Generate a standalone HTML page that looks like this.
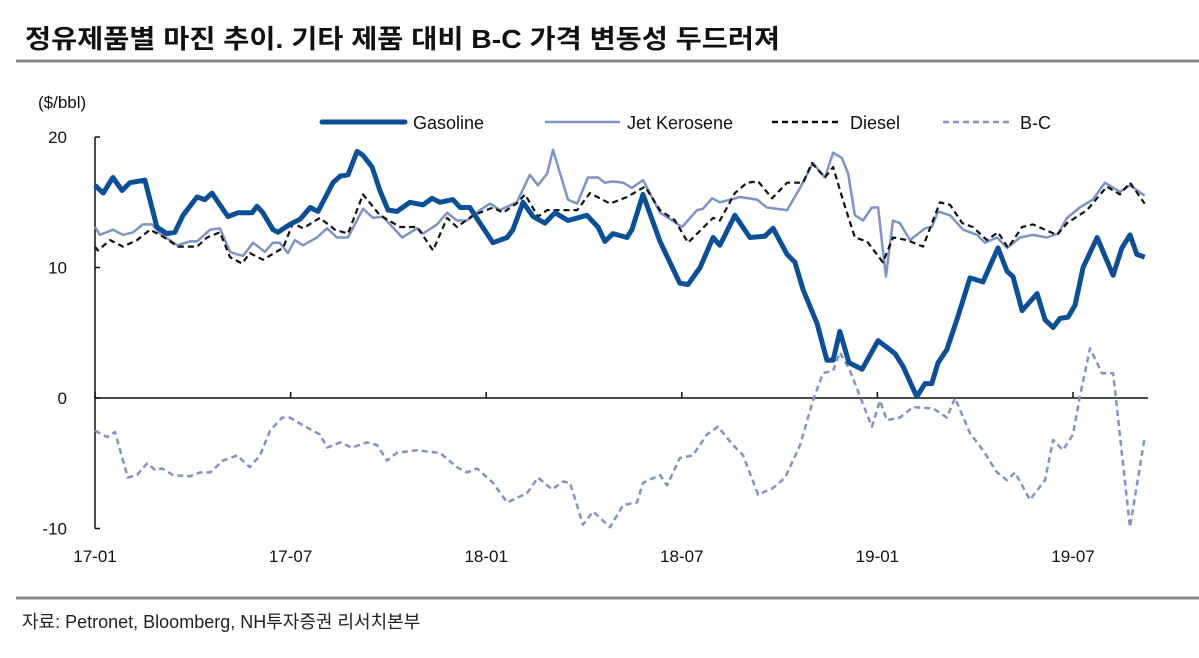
<!DOCTYPE html>
<html><head><meta charset="utf-8"><style>
body{margin:0;background:#fff;width:1199px;height:658px;overflow:hidden}
svg{display:block;font-family:"Liberation Sans","Noto Sans CJK KR",sans-serif}
</style></head><body>
<svg id="chart" width="1199" height="658">
<text x="25" y="48" font-size="26" font-weight="bold" fill="#111" textLength="755" lengthAdjust="spacingAndGlyphs">정유제품별 마진 추이. 기타 제품 대비 B-C 가격 변동성 두드러져</text>
<line x1="16" y1="61" x2="1199" y2="61" stroke="#888" stroke-width="3"/>
<text x="38" y="108" font-size="17" fill="#111">($/bbl)</text>
<g>
<line x1="322" y1="122" x2="405" y2="122" stroke="#0c4f94" stroke-width="5" stroke-linecap="round"/>
<text x="413" y="129" font-size="18" fill="#111">Gasoline</text>
<line x1="545" y1="122" x2="620" y2="122" stroke="#7f93c4" stroke-width="2.5"/>
<text x="627" y="129" font-size="18" fill="#111">Jet Kerosene</text>
<line x1="772" y1="122" x2="842" y2="122" stroke="#111" stroke-width="2.5" stroke-dasharray="6,4"/>
<text x="850" y="129" font-size="18" fill="#111">Diesel</text>
<line x1="943" y1="122" x2="1012" y2="122" stroke="#7f93c4" stroke-width="2.5" stroke-dasharray="6,4"/>
<text x="1020" y="129" font-size="18" fill="#111">B-C</text>
</g>
<g id="axes"></g>
<g id="series"></g>
<line x1="16" y1="598" x2="1199" y2="598" stroke="#888" stroke-width="3"/>
<text x="22" y="628" font-size="18" fill="#222">자료: Petronet, Bloomberg, NH투자증권 리서치본부</text>
</svg>
<script>
const yTicks=[20,10,0,-10];
const xTickLabels=["17-01","17-07","18-01","18-07","19-01","19-07"];
const xTickMonths=[0,6,12,18,24,30];
const gasM=[0,.25,.55,.83,1.07,1.53,1.9,2.2,2.45,2.7,3.13,3.37,3.59,4.08,4.39,4.82,4.97,5.15,5.46,5.61,5.98,6.29,6.6,6.84,7.3,7.52,7.76,8.04,8.22,8.5,8.74,8.99,9.26,9.66,10.06,10.34,10.58,10.98,11.2,11.5,11.81,12.21,12.64,12.82,13.13,13.44,13.8,14.11,14.51,15.09,15.43,15.64,15.89,16.32,16.47,16.81,17.33,17.94,18.19,18.56,18.96,19.17,19.63,20.09,20.55,20.8,21.23,21.47,21.72,22.15,22.45,22.64,22.85,23.13,23.53,24.02,24.54,24.79,25.21,25.46,25.67,25.86,26.13,26.44,26.84,27.24,27.7,27.98,28.16,28.44,28.9,29.14,29.39,29.6,29.85,30.06,30.31,30.74,31.23,31.5,31.75,31.96,32.2];
const gasV=[16.3,15.7,16.9,15.9,16.5,16.7,13.1,12.6,12.7,14.0,15.4,15.2,15.7,13.9,14.2,14.2,14.7,14.2,12.9,12.7,13.3,13.7,14.6,14.3,16.5,17.0,17.1,18.9,18.6,17.7,15.9,14.4,14.3,15.0,14.8,15.3,15.0,15.2,14.6,14.6,13.4,11.9,12.3,12.9,15.0,13.9,13.4,14.2,13.6,14.0,13.1,12.0,12.6,12.3,12.9,15.6,12.0,8.8,8.7,10.0,12.3,11.7,14.0,12.3,12.4,13.0,11.0,10.4,8.3,5.7,2.9,2.9,5.1,2.7,2.2,4.4,3.4,2.4,0.1,1.1,1.1,2.7,3.7,6.0,9.2,8.9,11.5,9.7,9.3,6.7,8.0,6.0,5.4,6.1,6.2,7.1,10.0,12.3,9.4,11.5,12.5,11.0,10.8];
const jetM=[0,.15,.55,.86,1.17,1.47,1.75,2.0,2.52,2.91,3.13,3.53,3.83,4.14,4.36,4.54,4.85,5.21,5.46,5.67,5.92,6.13,6.38,6.81,7.12,7.42,7.76,8.22,8.53,8.83,9.42,9.88,10.06,10.49,10.8,11.1,11.41,11.81,12.12,12.42,12.94,13.34,13.59,13.87,14.05,14.51,14.79,15.12,15.43,15.64,15.89,16.2,16.47,16.81,17.33,18.01,18.47,18.65,18.93,19.17,19.79,20.31,20.61,21.23,21.63,22.02,22.39,22.64,22.91,23.1,23.31,23.56,23.83,24.02,24.26,24.48,24.69,25.0,25.46,25.67,25.86,26.23,26.63,27.06,27.3,27.67,27.98,28.37,28.77,29.2,29.54,29.82,30.21,30.61,30.98,31.44,31.75,32.2];
const jetV=[13.1,12.5,12.9,12.5,12.7,13.3,13.3,12.6,11.7,12.0,12.0,12.9,13.0,11.2,11.0,10.9,11.9,11.2,11.9,11.9,11.1,12.1,11.7,12.3,13.0,12.3,12.3,14.5,13.8,13.9,12.3,13.0,12.6,13.3,14.2,13.6,13.6,14.4,14.9,14.4,15.0,17.1,16.3,17.2,19.0,15.2,14.9,16.9,16.9,16.5,16.6,16.5,16.1,16.7,14.2,13.1,14.4,14.5,15.3,15.0,15.4,15.2,14.6,14.4,16.1,18.0,16.9,18.8,18.4,17.2,14.0,13.6,14.6,14.6,9.3,13.6,13.4,12.1,13.0,13.1,14.3,14.0,12.9,12.5,11.9,12.3,11.5,12.3,12.5,12.3,12.6,13.8,14.6,15.2,16.5,15.8,16.3,15.5];
const dieM=[0,.09,.46,.86,1.29,1.69,2.06,2.55,3.13,3.44,3.83,4.14,4.51,4.75,5.15,5.77,6.07,6.38,6.9,7.36,7.76,8.22,8.74,9.36,9.88,10.37,10.8,11.1,11.6,12.21,12.52,12.98,13.19,13.59,13.87,14.79,15.18,15.8,16.32,16.87,17.33,17.79,18.19,18.96,19.17,19.63,20.0,20.34,20.77,21.23,21.72,21.99,22.39,22.64,22.94,23.31,23.68,24.17,24.48,24.91,25.4,25.92,26.23,26.6,26.93,27.36,27.7,28.01,28.44,28.77,29.51,29.82,30.43,31.04,31.44,31.75,32.2];
const dieV=[11.6,11.3,12.1,11.6,12.1,12.9,12.4,11.6,11.6,12.3,12.7,10.8,10.3,11.1,10.6,11.5,13.4,13.0,13.8,12.9,12.6,15.6,14.0,13.1,13.1,11.3,13.8,13.1,14.0,14.6,14.2,15.0,15.6,13.9,14.4,14.4,15.7,14.9,15.4,16.2,14.4,13.6,11.9,13.8,13.6,15.7,16.5,16.6,15.3,16.5,16.5,18.0,16.9,17.7,15.2,12.3,12.0,10.4,12.3,12.1,11.6,15.0,14.8,13.4,13.1,12.1,12.7,11.5,13.1,13.3,12.5,13.4,14.4,16.2,15.6,16.5,14.9];
const bcM=[0,.37,.61,1.01,1.29,1.6,1.84,2.06,2.39,2.91,3.22,3.53,3.93,4.36,4.75,5.06,5.37,5.74,5.98,6.38,6.9,7.12,7.52,7.88,8.34,8.65,8.96,9.26,9.88,10.18,10.58,11.1,11.41,11.72,12.21,12.64,13.25,13.59,14.02,14.36,14.57,14.97,15.28,15.8,16.2,16.63,16.81,17.33,17.55,17.94,18.34,18.77,19.11,19.57,19.88,20.34,20.8,21.17,21.63,22.02,22.33,22.64,22.85,23.16,23.47,23.83,24.08,24.29,24.69,25.09,25.71,26.13,26.38,26.84,27.24,27.67,27.98,28.22,28.68,29.14,29.39,29.69,30.0,30.21,30.52,30.89,31.23,31.75,32.2];
const bcV=[-2.5,-3.0,-2.6,-6.1,-5.9,-5.0,-5.5,-5.4,-5.9,-6.0,-5.7,-5.7,-4.8,-4.4,-5.3,-4.4,-2.5,-1.5,-1.5,-2.1,-2.8,-3.8,-3.4,-3.8,-3.4,-3.6,-4.8,-4.2,-4.0,-4.1,-4.2,-5.3,-5.7,-5.4,-6.5,-8.0,-7.3,-6.1,-7.0,-6.4,-6.5,-9.7,-8.7,-9.9,-8.2,-8.0,-6.5,-5.9,-6.7,-4.6,-4.4,-2.8,-2.2,-3.6,-4.4,-7.4,-6.9,-6.1,-3.6,-0.2,1.9,2.1,3.5,2.1,0.1,-2.2,-0.2,-1.7,-1.5,-0.7,-0.8,-1.5,0.0,-2.7,-4.0,-5.7,-6.3,-5.7,-7.8,-6.3,-3.2,-4.0,-2.8,0.1,3.8,1.9,1.9,-9.9,-3.0];

const NS="http://www.w3.org/2000/svg";
const X0=95,PXM=32.6,Y0=398,PXV=13.05;
function xs(m){return X0+m*PXM;}
function ys(v){return Y0-v*PXV;}
function mk(tag,attrs,parent){const e=document.createElementNS(NS,tag);for(const k in attrs)e.setAttribute(k,attrs[k]);parent.appendChild(e);return e;}
const axes=document.getElementById('axes'),ser=document.getElementById('series');
let el=mk('line',{x1:X0,y1:ys(20),x2:X0,y2:ys(-10),stroke:'#111','stroke-width':1.5},axes);


yTicks.forEach(t=>{
  let tk=mk('line',{x1:X0,y1:ys(t),x2:X0+5,y2:ys(t),stroke:'#111','stroke-width':1.5},axes);
  
  
  let lb=mk('text',{x:67,y:ys(t)+6,'font-size':17,'text-anchor':'end',fill:'#111'},axes);
  lb.textContent=t;
  
  
});
el=mk('line',{x1:X0,y1:ys(0),x2:1148,y2:ys(0),stroke:'#111','stroke-width':1.5},axes);


xTickMonths.forEach((m,i)=>{
  let tk=mk('line',{x1:xs(m),y1:ys(0),x2:xs(m),y2:ys(0)-6,stroke:'#111','stroke-width':1.5},axes);
  
  
  let lb=mk('text',{x:xs(m),y:562,'font-size':17,'text-anchor':'middle',fill:'#111'},axes);
  lb.textContent=xTickLabels[i];
  
  
});
function line(M,V,attrs,name){
  const d=M.map((m,i)=>(i?'L':'M')+xs(m).toFixed(1)+','+ys(V[i]).toFixed(1)).join('');
  const p=mk('path',Object.assign({d:d,fill:'none','stroke-linejoin':'round'},attrs),ser);
  
  
}
line(bcM,bcV,{stroke:'#7f93c4','stroke-width':2.5,'stroke-dasharray':'6,4'},'bc-line');
line(jetM,jetV,{stroke:'#7f93c4','stroke-width':2.5},'jet-kerosene-line');
line(dieM,dieV,{stroke:'#111','stroke-width':2.2,'stroke-dasharray':'6,4'},'diesel-line');
line(gasM,gasV,{stroke:'#0c4f94','stroke-width':5},'gasoline-line');
</script>
</body></html>
